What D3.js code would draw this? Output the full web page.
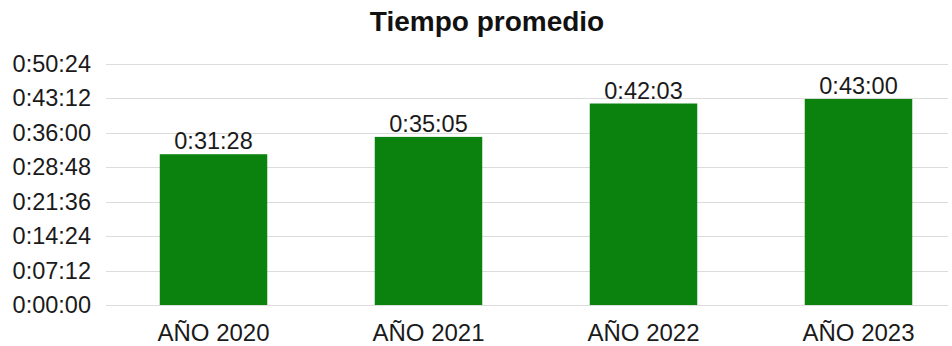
<!DOCTYPE html>
<html>
<head>
<meta charset="utf-8">
<script src="https://cdn.jsdelivr.net/npm/d3@7"></script>
<style>
  html, body { margin: 0; padding: 0; background: #fff; }
  svg { display: block; font-family: "Liberation Sans", Arial, sans-serif; }
</style>
</head>
<body>
<svg id="chart" width="952" height="346"></svg>
<script>
// Average time per year, in seconds
const categories = ["AÑO 2020", "AÑO 2021", "AÑO 2022", "AÑO 2023"];
const valueSeconds = [1888, 2105, 2523, 2580];
const valueLabels = ["0:31:28", "0:35:05", "0:42:03", "0:43:00"];
const tickSeconds = [0, 432, 864, 1296, 1728, 2160, 2592, 3024];
const tickLabels = ["0:00:00", "0:07:12", "0:14:24", "0:21:36", "0:28:48", "0:36:00", "0:43:12", "0:50:24"];
const titleText = "Tiempo promedio";

const svg = d3.select("#chart");
const plot = { left: 106, right: 948, top: 63.5, bottom: 305 };
const labelSize = 23.5;

const y = d3.scaleLinear().domain([0, 3024]).range([plot.bottom, plot.top]);
const x = d3.scaleBand().domain(categories).range([106, 966]).paddingInner(0.5).paddingOuter(0.25);

// Title
svg.append("text")
  .attr("x", 487).attr("y", 31)
  .attr("text-anchor", "middle")
  .attr("font-size", 28).attr("font-weight", "bold")
  .attr("fill", "#111")
  .text(titleText);

// Gridlines
svg.append("g")
  .selectAll("line")
  .data(tickSeconds)
  .join("line")
  .attr("x1", plot.left).attr("x2", plot.right)
  .attr("y1", d => Math.round(y(d)) + 0.5).attr("y2", d => Math.round(y(d)) + 0.5)
  .attr("stroke", "#dcdcdc").attr("stroke-width", 1);

// Y axis labels
const yAxis = d3.axisLeft(y).tickValues(tickSeconds)
  .tickFormat((d, i) => tickLabels[i]).tickSize(0).tickPadding(0);
const yg = svg.append("g").attr("transform", "translate(91,0)").call(yAxis);
yg.select(".domain").remove();
yg.selectAll("text").attr("font-size", labelSize).attr("fill", "#1a1a1a")
  .attr("font-family", "'Liberation Sans', Arial, sans-serif");

// Bars
svg.append("g")
  .selectAll("rect")
  .data(categories)
  .join("rect")
  .attr("x", d => x(d))
  .attr("width", x.bandwidth())
  .attr("y", (d, i) => y(valueSeconds[i]))
  .attr("height", (d, i) => y(0) - y(valueSeconds[i]))
  .attr("fill", "#0b820e");

// Value labels
svg.append("g")
  .selectAll("text")
  .data(categories)
  .join("text")
  .attr("x", d => x(d) + x.bandwidth() / 2)
  .attr("y", (d, i) => y(valueSeconds[i]) - 5)
  .attr("text-anchor", "middle")
  .attr("font-size", labelSize).attr("fill", "#1a1a1a")
  .text((d, i) => valueLabels[i]);

// X axis labels
const xAxis = d3.axisBottom(x).tickSize(0).tickPadding(0);
const xg = svg.append("g").attr("transform", "translate(0,324)").call(xAxis);
xg.select(".domain").remove();
xg.selectAll("text").attr("font-size", 24).attr("fill", "#1a1a1a")
  .attr("font-family", "'Liberation Sans', Arial, sans-serif");
</script>
</body>
</html>
